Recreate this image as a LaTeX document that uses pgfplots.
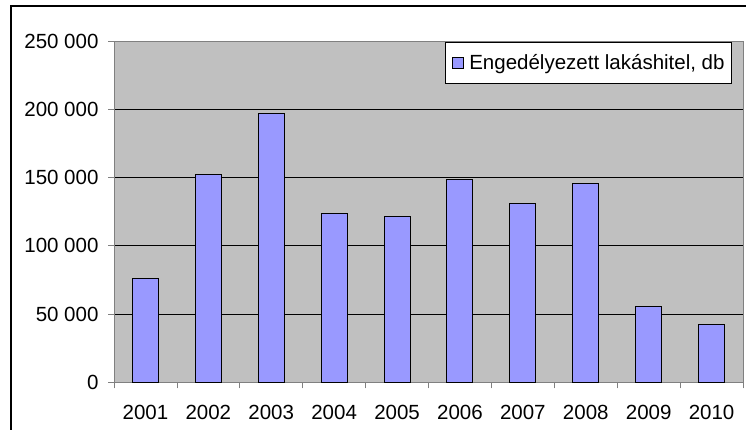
\documentclass[border=0pt]{standalone}
\usepackage{pgfplots}
\pgfplotsset{compat=1.18}
\usepackage{fontspec}
\setmainfont{Liberation Sans}
\definecolor{plotbg}{HTML}{C0C0C0}
\definecolor{barfill}{HTML}{9999FF}
\definecolor{axisgray}{HTML}{808080}
\begin{document}
\begin{tikzpicture}[x=1pt,y=1pt]
\useasboundingbox (0,0) rectangle (746,430);
\fill[white] (0,0) rectangle (746,430);
\begin{scope}
\clip (0,0) rectangle (746,430);
\draw[line width=1.6pt] (11,-5) -- (11,424) -- (760,424);
\end{scope}
\begin{axis}[
  at={(114pt,47.7pt)}, anchor=south west,
  scale only axis, width=629pt, height=341.3pt,
  xmin=0.5, xmax=10.5, ymin=0, ymax=250000,
  axis background/.style={fill=plotbg},
  axis line style={axisgray, line width=0.8pt},
  ybar, bar width=26pt,
  scaled y ticks=false,
  xtick={1,...,10},
  xticklabels={2001,2002,2003,2004,2005,2006,2007,2008,2009,2010},
  minor xtick={0.5,1.5,...,10.5},
  ytick={0,50000,100000,150000,200000,250000},
  yticklabels={0,50 000,100 000,150 000,200 000,250 000},
  xtick pos=lower, ytick pos=left,
  tick align=outside,
  major tick length=6pt, minor tick length=6pt,
  major x tick style={draw=none},
  tick style={axisgray, line width=0.8pt},
  ymajorgrids, major grid style={black, line width=0.8pt},
  xticklabel style={font=\fontsize{20.5}{24}\selectfont, yshift=-13pt},
  yticklabel style={font=\fontsize{20.5}{24}\selectfont, xshift=-6pt},
  legend style={at={(0.9825,0.997)}, anchor=north east, draw=black, fill=white,
    font=\fontsize{20.5}{24}\selectfont, inner xsep=5pt, inner ysep=10pt, line width=0.8pt},
  legend image code/.code={\draw[fill=barfill,draw=black,line width=0.8pt] (2pt,-5.5pt) rectangle (13pt,5.5pt); \path[draw=none,fill=none] (0pt,0pt) (17pt,0pt);},
]
\addplot[fill=barfill, draw=black, line width=1pt] coordinates {
(1,76200) (2,152500) (3,196700) (4,123900) (5,121400)
(6,148800) (7,131200) (8,145600) (9,55400) (10,42000)};
\addlegendentry{Engedélyezett lakáshitel, db}
\end{axis}
\end{tikzpicture}
\end{document}
